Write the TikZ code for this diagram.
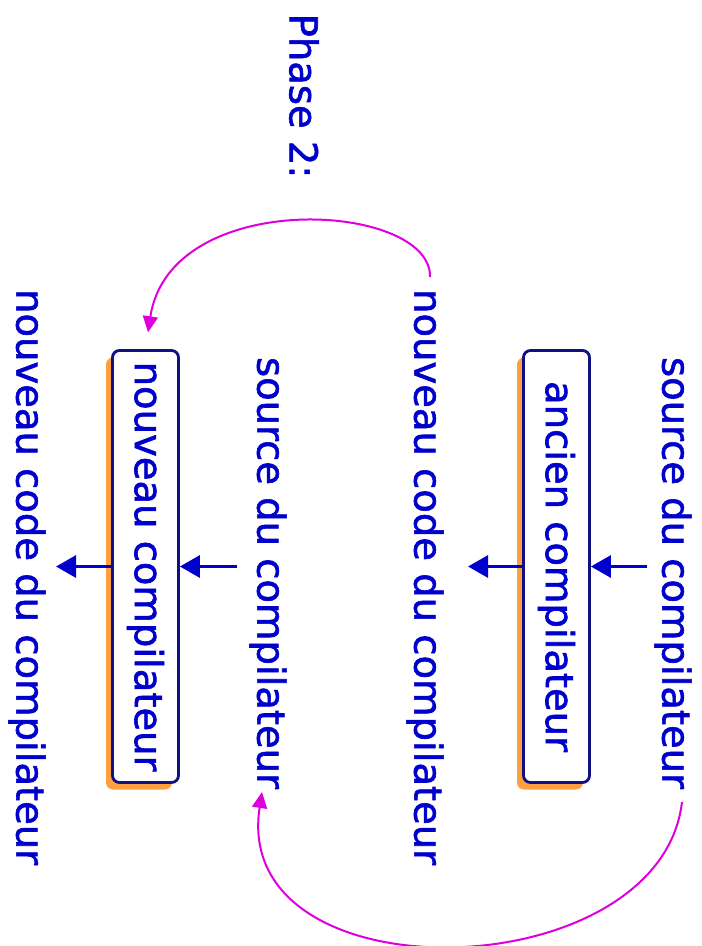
\documentclass[tikz,border=0pt]{standalone}
\usepackage{fontspec}
\setmainfont{DejaVu Sans}[FakeBold=1.6,BoldFont=DejaVu Sans]
\usetikzlibrary{arrows.meta,shadows}
\definecolor{txtblue}{RGB}{0,0,204}
\definecolor{boxnavy}{RGB}{16,16,128}
\definecolor{shadoworange}{RGB}{255,160,64}
\definecolor{flowmag}{RGB}{221,0,221}
\tikzset{
  lbl/.style={text=txtblue, inner sep=0pt, font=\fontsize{38.5}{40}\selectfont\bfseries},
  compbox/.style={draw=boxnavy, line width=2.8pt, fill=white, rounded corners=7pt,
    minimum width=66pt, minimum height=432pt, inner sep=0pt,
    text=txtblue, font=\fontsize{38.5}{40}\selectfont\bfseries,
    general shadow={fill=shadoworange, shadow xshift=-6.5pt, shadow yshift=-7pt}},
  flowarr/.style={draw=txtblue, line width=3pt, -{Triangle[length=20pt,width=22pt]}},
  backarr/.style={draw=flowmag, line width=2pt, -{Triangle[length=16pt,width=15pt]}}
}
\newcommand{\vtext}[1]{\rotatebox{-90}{#1}}
\begin{document}
\begin{tikzpicture}[x=1pt,y=-1pt]
\useasboundingbox (0,0) rectangle (702,946);
% title
\node[lbl] (phase) at (304,96) {\vtext{Phase 2:}};
% first stage: old compiler translates the compiler source
\node[lbl] (src1) at (673,573) {\vtext{source du compilateur}};
\node[compbox] (box1) at (556.5,566.5) {\vtext{ancien compilateur}};
\node[lbl] (out1) at (425,577) {\vtext{nouveau code du compilateur}};
% second stage: new compiler translates the same source again
\node[lbl] (src2) at (268,573) {\vtext{source du compilateur}};
\node[compbox] (box2) at (145.5,566.5) {\vtext{nouveau compilateur}};
\node[lbl] (out2) at (27,577) {\vtext{nouveau code du compilateur}};
% horizontal flow
\draw[flowarr] (647,566.5) -- (box1.east);
\draw[flowarr] (box1.west) -- (468,566.5);
\draw[flowarr] (237,566.5) -- (box2.east);
\draw[flowarr] (box2.west) -- (56,566.5);
% feedback arcs
\draw[backarr, shorten >=17pt] (430,277) .. controls (432,202) and (170,186) .. (box2.north);
\draw[backarr] (682,802) .. controls (660,990) and (230,1000) .. (262,792);
\end{tikzpicture}
\end{document}
